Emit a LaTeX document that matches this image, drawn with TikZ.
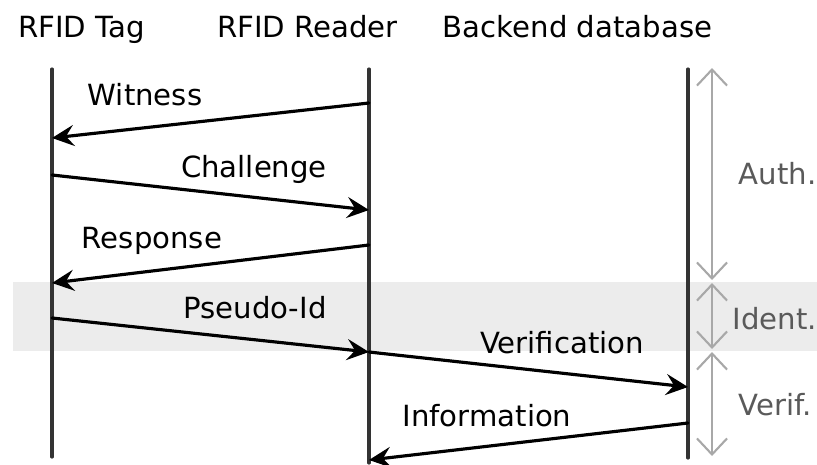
\documentclass[tikz,border=0pt]{standalone}
\usepackage{fontspec}
\setmainfont{DejaVu Sans}
\usepackage{pgf,tikz}
\usepackage{tkz-euclide}
\usepackage{xcolor}
\usetikzlibrary{arrows}
\usetikzlibrary{arrows.meta}
\definecolor{bandgray}{HTML}{ECECEC}
\definecolor{spangray}{HTML}{A8A8A8}
\definecolor{sidegray}{HTML}{5A5A5A}
\definecolor{linegray}{HTML}{333333}
\tikzset{
  lifeline/.style={draw=linegray, line width=0.9pt},
  msg/.style={draw=black, line width=0.9pt, -{Stealth[length=2.2mm,width=2.1mm,inset=0.8mm]}},
  span/.style={draw=spangray, line width=0.6pt, {Straight Barb[length=1.6mm,width=3mm]}-{Straight Barb[length=1.6mm,width=3mm]}},
  hdr/.style={font=\fontsize{8.3pt}{10pt}\selectfont, anchor=base, inner sep=0pt},
  lbl/.style={font=\fontsize{8.3pt}{10pt}\selectfont, anchor=base, inner sep=0pt},
  side/.style={font=\fontsize{8.3pt}{10pt}\selectfont, text=sidegray, anchor=base west, inner sep=0pt}
}

\begin{document}
\begin{tikzpicture}
\useasboundingbox (0,0) rectangle (8.17,4.64);
\fill[bandgray] (0.13,1.13) rectangle (8.17,1.82);
% lifelines
\tkzDefPoint(0.52,3.95){tag_top}
\tkzDefPoint(0.52,0.07){tag_bot}
\tkzDefPoint(3.69,3.95){rdr_top}
\tkzDefPoint(3.69,0.01){rdr_bot}
\tkzDefPoint(6.88,3.95){db_top}
\tkzDefPoint(6.88,0.06){db_bot}
\tkzDrawSegments[lifeline](tag_top,tag_bot rdr_top,rdr_bot db_top,db_bot)
\node[hdr] (tag) at (0.815,4.27) {RFID Tag};
\node[hdr] (rdr) at (3.075,4.27) {RFID Reader};
\node[hdr] (db) at (5.775,4.27) {Backend database};
% message ends
\tkzDefPoint(3.69,3.61){r_1}
\tkzDefPoint(0.52,3.26){t_1}
\tkzDefPoint(0.52,2.89){t_2}
\tkzDefPoint(3.69,2.54){r_2}
\tkzDefPoint(3.69,2.19){r_3}
\tkzDefPoint(0.52,1.81){t_3}
\tkzDefPoint(0.52,1.46){t_4}
\tkzDefPoint(3.69,1.12){r_4}
\tkzDefPoint(6.88,0.77){d_1}
\tkzDefPoint(6.88,0.41){d_2}
\tkzDefPoint(3.69,0.04){r_5}
\tkzDrawSegments[msg](r_1,t_1 t_2,r_2 r_3,t_3 t_4,r_4 r_4,d_1 d_2,r_5)
\node[lbl] (witness) at (1.45,3.59) {Witness};
\node[lbl] (challenge) at (2.54,2.87) {Challenge};
\node[lbl] (response) at (1.52,2.16) {Response};
\node[lbl] (pseudo) at (2.55,1.46) {Pseudo-Id};
\node[lbl] (verification) at (5.62,1.11) {Verification};
\node[lbl] (information) at (4.87,0.38) {Information};
% phases
\tkzDefPoint(7.12,3.96){a_1}
\tkzDefPoint(7.12,1.84){a_2}
\tkzDefPoint(7.12,1.81){a_3}
\tkzDefPoint(7.12,1.15){a_4}
\tkzDefPoint(7.12,1.12){a_5}
\tkzDefPoint(7.12,0.08){a_6}
\tkzDrawSegments[span](a_1,a_2 a_3,a_4 a_5,a_6)
\node[side] (auth) at (7.38,2.80) {Auth.};
\node[side] (ident) at (7.32,1.35) {Ident.};
\node[side] (verif) at (7.38,0.49) {Verif.};
\end{tikzpicture}
\end{document}
